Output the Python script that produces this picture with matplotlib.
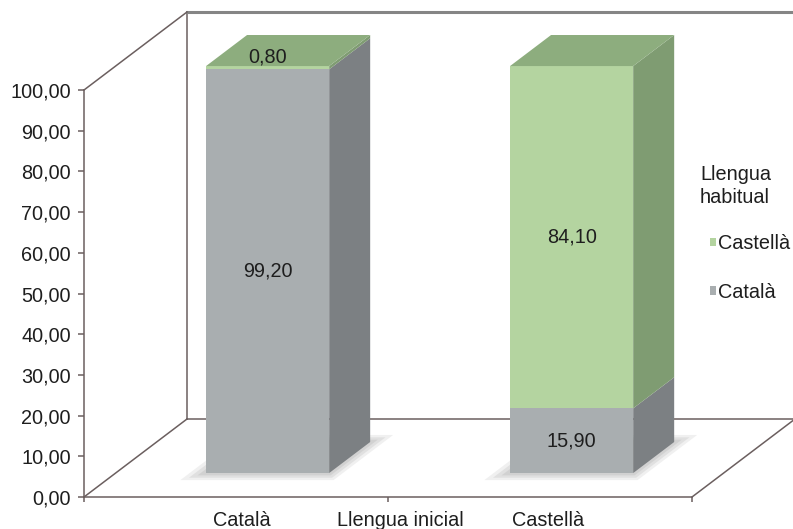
import matplotlib
matplotlib.use("Agg")
import matplotlib.pyplot as plt
from matplotlib.patches import Polygon, Patch
from matplotlib.ticker import FuncFormatter

# ---- data ----
categories = ["Català", "Castellà"]          # llengua inicial
series_names = ["Català", "Castellà"]        # llengua habitual (stack order bottom->top)
catala_values = [99.20, 15.90]
castella_values = [0.80, 84.10]
yticks = [0, 10, 20, 30, 40, 50, 60, 70, 80, 90, 100]
x_title = "Llengua inicial"
legend_title = "Llengua\nhabitual"

plt.rcParams['font.family'] = ['Liberation Sans', 'DejaVu Sans']

# ---- style ----
front_cols = {"Català": "#a9aeb0", "Castellà": "#b4d4a0"}
side_cols = {"Català": "#7c8083", "Castellà": "#7f9c72"}
top_cols = {"Català": "#9a9ea0", "Castellà": "#8dad7e"}
line_col = "#6b5f5f"
txt_col = "#1e1e1e"
FS = 14.3

fig = plt.figure(figsize=(7.93, 5.29), dpi=100)
ax = fig.add_axes([84 / 793, 32 / 529, 608 / 793, 407 / 529])
ax.set_xlim(0, 2)
ax.set_ylim(0, 100)

# depth projection (oblique 3D look)
DX = 103 / 304.0
DY = 78 / 4.07


def P(x, y, z):
    return (x + z * DX, y + z * DY)


def poly(pts, color, z, **kw):
    ax.add_patch(Polygon([P(*p) for p in pts], closed=True, facecolor=color,
                         edgecolor='none', clip_on=False, zorder=z, **kw))


# back wall and floor lines
xmax = 2
ax.plot(*zip(P(0, 0, 1), P(0, 100, 1)), color=line_col, lw=1.1, clip_on=False, zorder=1)
ax.plot(*zip(P(0, 100, 1), P(xmax, 100, 1)), color="#858585", lw=2.2, clip_on=False, zorder=1)
ax.plot(*zip(P(0, 0, 1), P(xmax, 0, 1)), color=line_col, lw=1.1, clip_on=False, zorder=1)
ax.plot(*zip(P(0, 0, 0), P(0, 0, 1)), color=line_col, lw=1.1, clip_on=False, zorder=1)
ax.plot(*zip(P(0, 100, 0), P(0, 100, 1)), color=line_col, lw=1.1, clip_on=False, zorder=1)
ax.plot(*zip(P(xmax, 0, 0), P(xmax, 0, 1)), color=line_col, lw=1.1, clip_on=False, zorder=1)

# bars
W = 0.405
z0, z1 = 0.307, 0.705
series_vals = {"Català": catala_values, "Castellà": castella_values}


def fmt(v):
    return f"{v:.2f}".replace('.', ',')


for i, cat in enumerate(categories):
    c = i + 0.5
    xl, xr = c - W / 2, c + W / 2
    # soft shadow on floor
    for k, a in enumerate([0.25, 0.35, 0.5]):
        e = 0.045 - k * 0.015
        poly([(xl - e * 1.2, 0, z0 - e * 2), (xr + e, 0, z0 - e * 2),
              (xr + e, 0, z1 + e * 2), (xl - e * 1.2, 0, z1 + e * 2)], "#c4c4c4", 2, alpha=a)
    bottom = 0.0
    n = len(series_names)
    for j, s in enumerate(series_names):
        v = series_vals[s][i]
        top = bottom + v
        poly([(xl, bottom, z0), (xr, bottom, z0), (xr, top, z0), (xl, top, z0)], front_cols[s], 3)
        poly([(xr, bottom, z0), (xr, bottom, z1), (xr, top, z1), (xr, top, z0)], side_cols[s], 3)
        if j == n - 1:
            poly([(xl, top, z0), (xr, top, z0), (xr, top, z1), (xl, top, z1)], top_cols[s], 3)
        # data label
        if v < 5:
            ly = top + 2.2
        else:
            ly = bottom + v / 2
        lx, lyy = P(c, ly, z0)
        ax.text(lx, lyy, fmt(v), ha='center', va='center', fontsize=FS,
                color=txt_col, zorder=5)
        bottom = top

# axes styling
for sp in ["top", "right"]:
    ax.spines[sp].set_visible(False)
for sp in ["left", "bottom"]:
    ax.spines[sp].set_color(line_col)
    ax.spines[sp].set_linewidth(1.1)
    ax.spines[sp].set_zorder(4)
ax.set_facecolor('none')
ax.set_yticks(yticks)
ax.yaxis.set_major_formatter(FuncFormatter(lambda v, p: fmt(v)))
ax.tick_params(axis='y', direction='out', length=4.5, width=1.1, color=line_col,
               labelsize=FS, labelcolor=txt_col, pad=5)
ax.set_xticks([0, 1, 2])
ax.set_xticklabels([])
ax.tick_params(axis='x', direction='out', length=3.5, width=1.1, color=line_col)

# category labels & axis title
lab_y = -23 / 407
for i, cat in enumerate(categories):
    ax.text(i + 0.52 + 0.006 * i, lab_y, cat, transform=ax.get_xaxis_transform(),
            ha='center', va='center', fontsize=FS, color=txt_col)
ax.text(1.04, lab_y, x_title, transform=ax.get_xaxis_transform(),
        ha='center', va='center', fontsize=FS, color=txt_col)

# legend
fig.text(700 / 793, 1 - 186 / 529, legend_title, ha='left', va='center',
         fontsize=FS, color=txt_col, linespacing=1.3)
handles = [Patch(facecolor=front_cols[s], edgecolor='none', label=s)
           for s in reversed(series_names)]
fig.legend(handles=handles, loc='upper left', bbox_to_anchor=(710 / 793, 1 - 234 / 529),
           frameon=False, fontsize=FS, handlelength=0.28, handleheight=0.28,
           handletextpad=0.1, labelspacing=1.5, borderpad=0, borderaxespad=0,
           labelcolor=txt_col)

fig.savefig("out.png", dpi=100)
